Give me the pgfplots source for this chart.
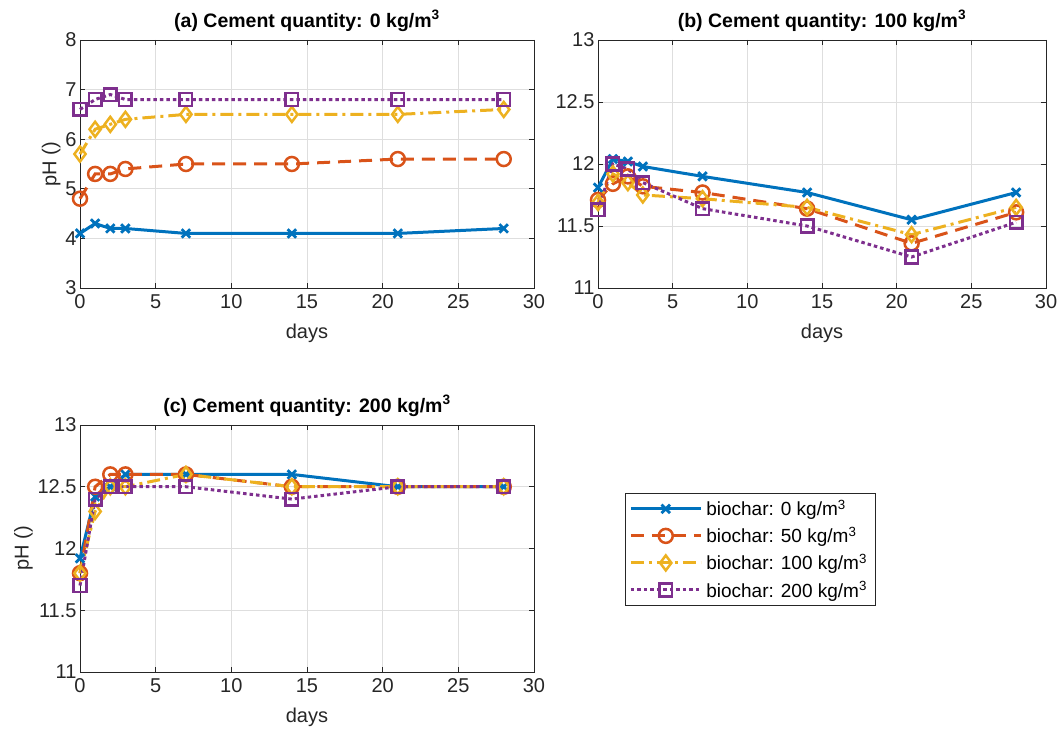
\documentclass[border=0pt]{standalone}
\usepackage{fontspec}
\setmainfont{Liberation Sans}
\usepackage{pgfplots}
\pgfplotsset{compat=1.18}
\definecolor{c1}{rgb}{0,0.447,0.741}
\definecolor{c2}{rgb}{0.85,0.325,0.098}
\definecolor{c3}{rgb}{0.929,0.694,0.125}
\definecolor{c4}{rgb}{0.494,0.184,0.556}
\definecolor{axc}{rgb}{0.15,0.15,0.15}
\pgfplotsset{
  myax/.style={
    scale only axis, anchor=south west, clip=false,
    xmin=0, xmax=30, xtick={0,5,...,30},
    grid=major, grid style={color=black!13, line width=0.7pt},
    axis line style={color=axc, line width=0.8pt},
    tick align=inside, major tick length=5pt, tick style={color=axc, line width=0.8pt},
    xtick pos=both, ytick pos=both,
    tick label style={font=\fontsize{20}{23}\selectfont, color=axc},
    xticklabel style={yshift=-3pt},
    label style={font=\fontsize{20}{23}\selectfont, color=axc},
    xlabel style={yshift=-8pt},
    ylabel style={yshift=-2pt},
    title style={font=\bfseries\fontsize{19.5}{22}\selectfont, color=black, yshift=-1pt},
    xlabel={days}, ylabel={pH ()},
    /pgf/number format/assume math mode=true,
    every axis plot/.append style={line width=3pt},
  },
  s1/.style={color=c1, solid, mark=x, mark size=6pt, mark options={solid, line width=2.8pt}},
  s2/.style={color=c2, dash pattern=on 13pt off 8pt, mark=o, mark size=7pt, mark options={solid, line width=2.5pt}},
  s3/.style={color=c3, dash pattern=on 13pt off 5pt on 3pt off 5pt, mark=diamond, mark size=7.5pt, mark options={solid, line width=2.5pt}},
  s4/.style={color=c4, dash pattern=on 3.5pt off 3pt, mark=square, mark size=6.3pt, mark options={solid, line width=2.5pt}},
}
\begin{document}
\begin{tikzpicture}[x=1pt,y=1pt]
\path[use as bounding box] (0,0) rectangle (1062,733);
% (a)
\begin{axis}[myax, at={(80pt,445pt)}, width=454pt, height=248pt,
  ymin=3, ymax=8, ytick={3,4,...,8},
  title={(a) Cement quantity: 0 kg/m\textsuperscript{3}}]
\addplot[s1] coordinates {(0,4.1)(1,4.3)(2,4.2)(3,4.2)(7,4.1)(14,4.1)(21,4.1)(28,4.2)};
\addplot[s2] coordinates {(0,4.8)(1,5.3)(2,5.3)(3,5.4)(7,5.5)(14,5.5)(21,5.6)(28,5.6)};
\addplot[s3] coordinates {(0,5.7)(1,6.2)(2,6.3)(3,6.4)(7,6.5)(14,6.5)(21,6.5)(28,6.6)};
\addplot[s4] coordinates {(0,6.6)(1,6.8)(2,6.9)(3,6.8)(7,6.8)(14,6.8)(21,6.8)(28,6.8)};
\end{axis}
% (b)
\begin{axis}[myax, at={(598pt,445pt)}, width=448pt, height=248pt,
  ymin=11, ymax=13, ytick={11,11.5,12,12.5,13}, ylabel={},
  yticklabel style={/pgf/number format/fixed},
  title={(b) Cement quantity: 100 kg/m\textsuperscript{3}}]
\addplot[s1] coordinates {(0,11.81)(1,12.04)(2,12.02)(3,11.98)(7,11.9)(14,11.77)(21,11.55)(28,11.77)};
\addplot[s2] coordinates {(0,11.71)(1,11.84)(2,11.9)(3,11.82)(7,11.77)(14,11.64)(21,11.36)(28,11.61)};
\addplot[s3] coordinates {(0,11.69)(1,11.92)(2,11.85)(3,11.75)(7,11.72)(14,11.65)(21,11.43)(28,11.65)};
\addplot[s4] coordinates {(0,11.63)(1,12.0)(2,11.96)(3,11.85)(7,11.64)(14,11.5)(21,11.25)(28,11.53)};
\end{axis}
% (c)
\begin{axis}[myax, at={(80pt,61pt)}, width=454pt, height=247pt,
  ymin=11, ymax=13, ytick={11,11.5,12,12.5,13},
  title={(c) Cement quantity: 200 kg/m\textsuperscript{3}},
  legend cell align=left,
  legend style={at={(1.2004,0.7247)}, anchor=north west, draw=axc, line width=0.6pt,
    font=\fontsize{19}{22}\selectfont, row sep=6pt, inner xsep=4pt, inner ysep=5pt,
    nodes={inner xsep=4pt}},
  legend image code/.code={\draw[mark repeat=2, mark phase=2] plot coordinates {(0pt,0pt) (35pt,0pt) (70pt,0pt)};}]
\addplot[s1] coordinates {(0,11.92)(1,12.42)(2,12.5)(3,12.6)(7,12.6)(14,12.6)(21,12.5)(28,12.5)};
\addlegendentry{biochar: 0 kg/m\textsuperscript{3}}
\addplot[s2] coordinates {(0,11.8)(1,12.5)(2,12.6)(3,12.6)(7,12.6)(14,12.5)(21,12.5)(28,12.5)};
\addlegendentry{biochar: 50 kg/m\textsuperscript{3}}
\addplot[s3] coordinates {(0,11.8)(1,12.3)(2,12.5)(3,12.5)(7,12.6)(14,12.5)(21,12.5)(28,12.5)};
\addlegendentry{biochar: 100 kg/m\textsuperscript{3}}
\addplot[s4] coordinates {(0,11.7)(1,12.4)(2,12.5)(3,12.5)(7,12.5)(14,12.4)(21,12.5)(28,12.5)};
\addlegendentry{biochar: 200 kg/m\textsuperscript{3}}
\end{axis}
\end{tikzpicture}
\end{document}
